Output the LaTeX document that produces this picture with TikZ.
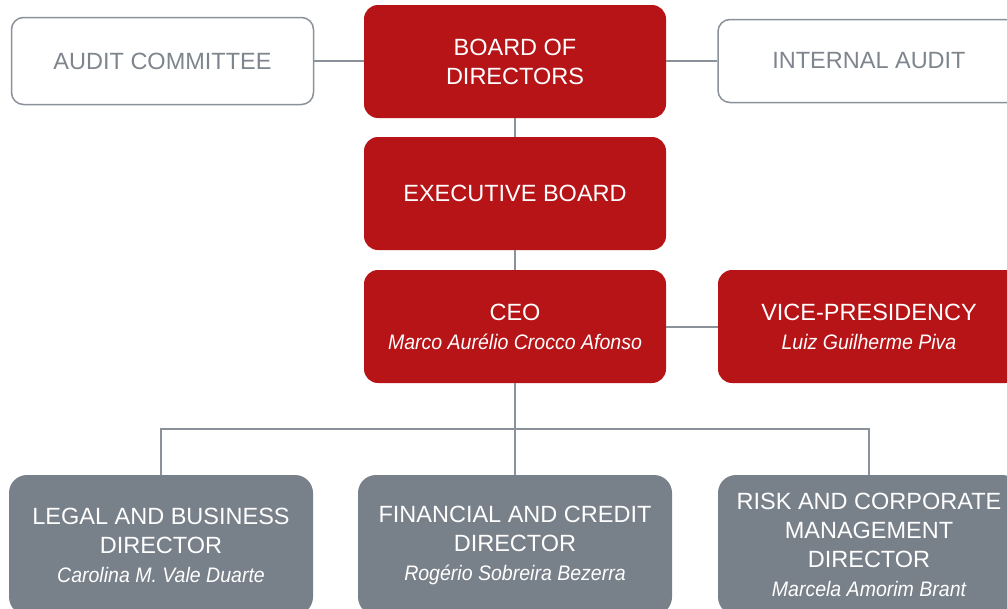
\documentclass[tikz,border=0pt]{standalone}
\usepackage{fontspec}
\setmainfont{Liberation Sans}
\newfontfamily\namefont[FakeStretch=0.93]{Liberation Sans}
\usepackage{xcolor}
\usepackage{tikz}

\definecolor{boardred}{HTML}{B61417}
\definecolor{dirgray}{HTML}{78808A}
\definecolor{edgegray}{HTML}{8B9199}
\definecolor{labelgray}{HTML}{7E858D}

\newcommand{\person}[1]{{\namefont\itshape\fontsize{21}{29}\selectfont #1}}

\tikzset{
  unit/.style={align=center, inner sep=0pt, text=white,
    font=\fontsize{23.5}{29}\selectfont},
  redbox/.style={unit, fill=boardred, rounded corners=14pt,
    minimum width=302pt, minimum height=113pt},
  graybox/.style={unit, fill=dirgray, rounded corners=18pt,
    minimum height=140pt},
  outbox/.style={unit, draw=edgegray, line width=1.5pt, fill=white,
    text=labelgray, rounded corners=12pt, minimum width=302pt},
  link/.style={draw=edgegray, line width=2pt}
}

\begin{document}
\begin{tikzpicture}[x=1pt, y=-1pt]
\useasboundingbox (0,0) rectangle (1007,608);
\clip (0,0) rectangle (1007,608);
\fill[white] (0,0) rectangle (1007,608);

% top row
\node[redbox] (board) at (515,61.5) {BOARD OF\\DIRECTORS};
\node[outbox, minimum height=87pt] (audit) at (162.5,61) {AUDIT COMMITTEE};
\node[outbox, minimum height=83pt] (intaudit) at (869,61) {INTERNAL AUDIT};

% executive line
\node[redbox] (exec) at (515,193.5) {EXECUTIVE BOARD};
\node[redbox] (ceo) at (515,326.5) {CEO\\\person{Marco Aurélio Crocco Afonso}};
\node[redbox] (vice) at (869,326.5) {VICE-PRESIDENCY\\\person{Luiz Guilherme Piva}};

% directors
\node[graybox, minimum width=304pt] (legal) at (161,545)
  {LEGAL AND BUSINESS\\DIRECTOR\\\person{Carolina M. Vale Duarte}};
\node[graybox, minimum width=314pt] (fin) at (515,545)
  {FINANCIAL AND CREDIT\\DIRECTOR\\\person{Rogério Sobreira Bezerra}};
\node[graybox, minimum width=302pt] (risk) at (869,545)
  {RISK AND CORPORATE\\MANAGEMENT\\DIRECTOR\\\person{Marcela Amorim Brant}};

\coordinate (bus) at (515,429);

% connectors
\draw[link] (audit.east) -- (audit.east -| board.west);
\draw[link] (intaudit.west -| board.east) -- (intaudit.west);
\draw[link] (board) -- (exec);
\draw[link] (exec) -- (ceo);
\draw[link] (ceo) -- (vice);
\draw[link] (ceo) -- (fin);
\draw[link] (legal.north) |- (bus) -| (risk.north);
\end{tikzpicture}
\end{document}
